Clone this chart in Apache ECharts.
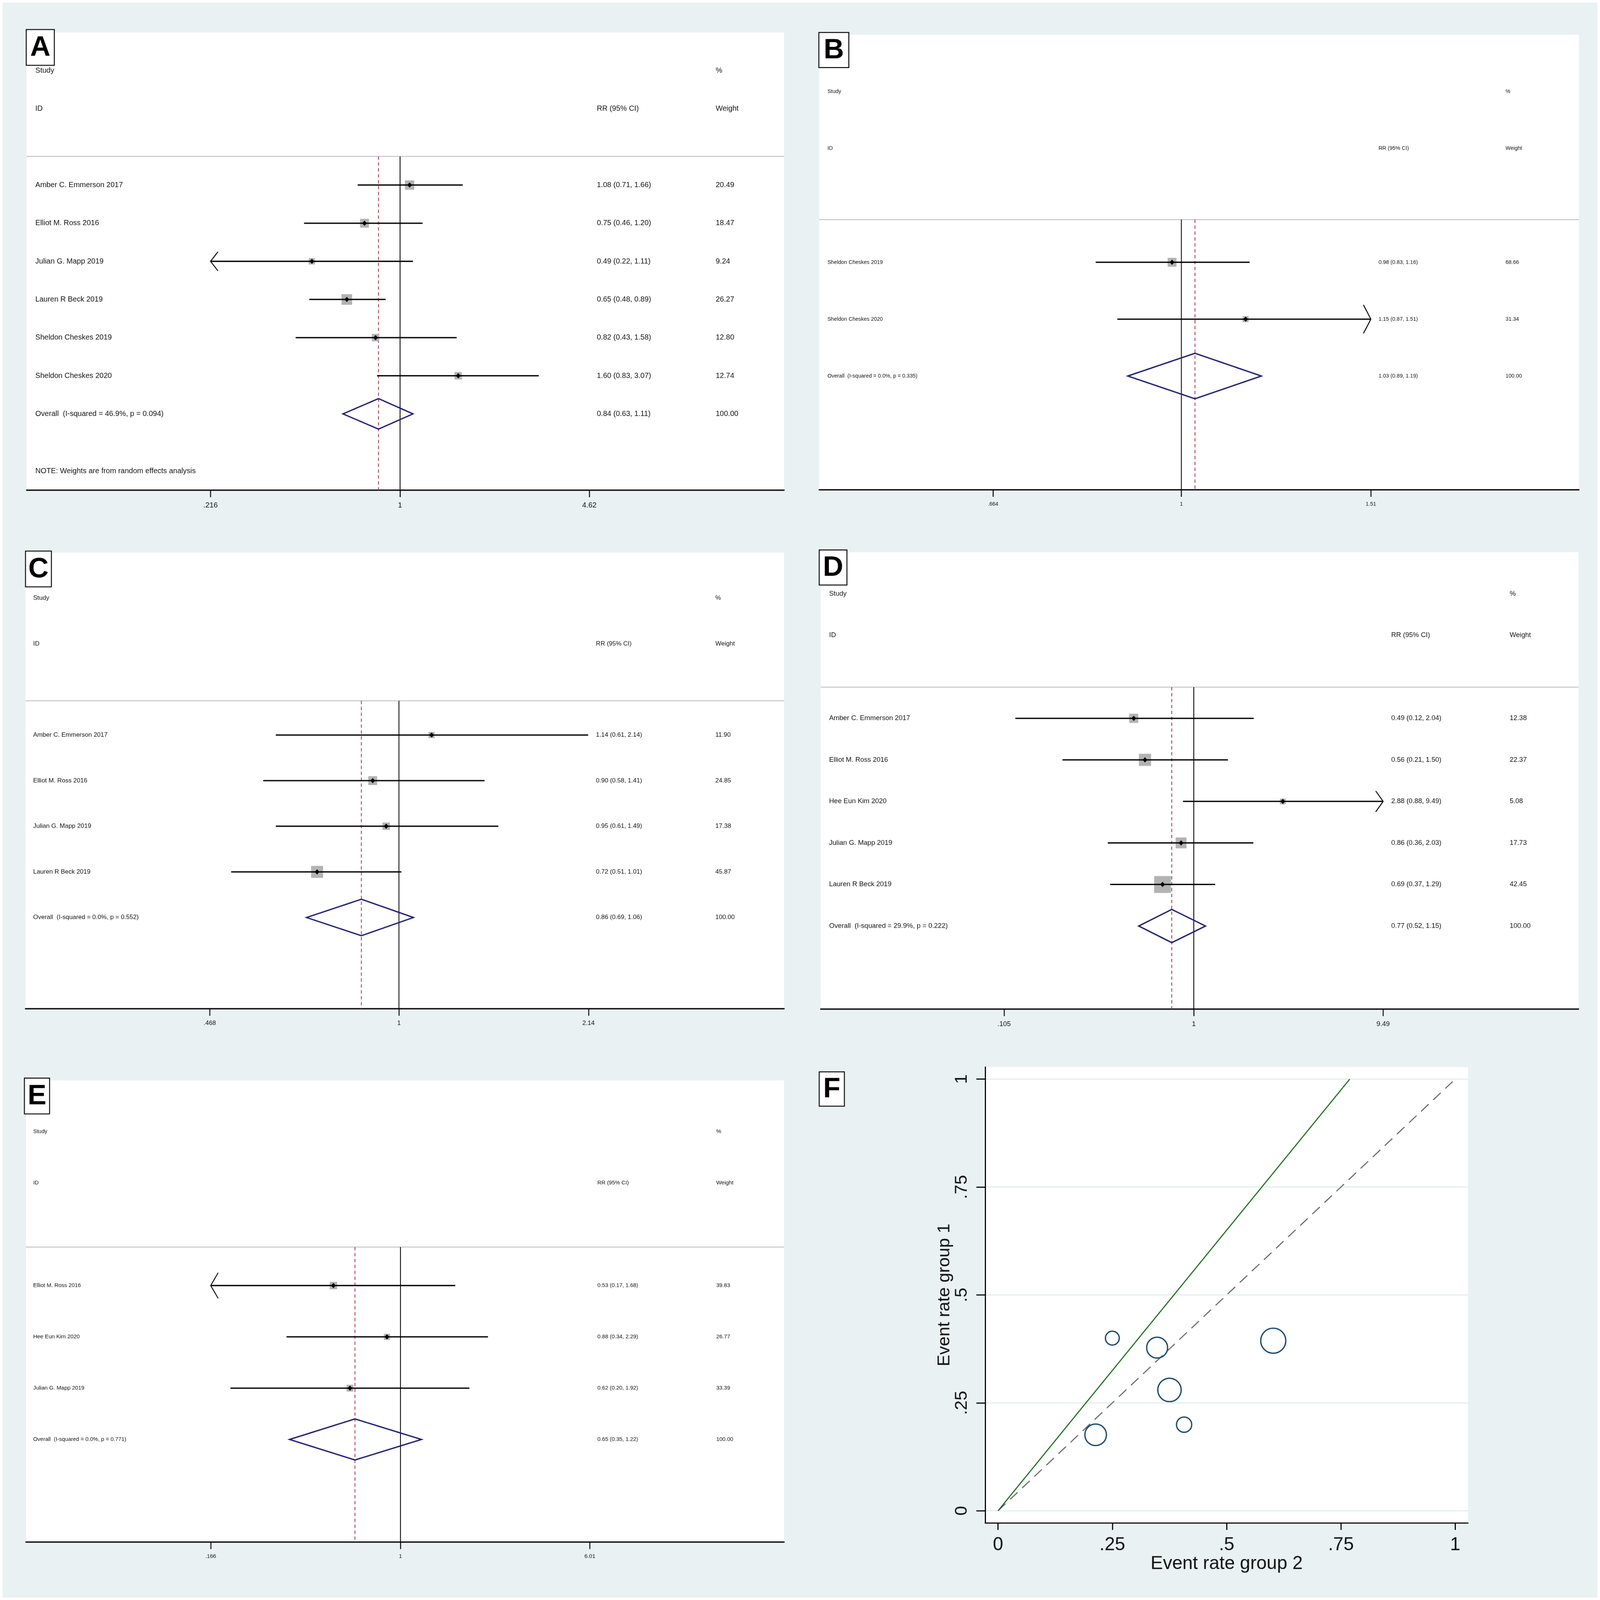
<!DOCTYPE html>
<html>
<head>
<meta charset="utf-8">
<style>
  html, body { margin: 0; padding: 0; background: #fff; overflow: hidden; }
  #chart { width: 4328px; height: 4335px; transform-origin: 0 0; }
</style>
<script src="https://cdn.jsdelivr.net/npm/echarts@6/dist/echarts.min.js"></script>
</head>
<body>
<div id="chart"></div>
<script>
// ---- panel A ----
var studiesA = ['Amber C. Emmerson 2017', 'Elliot M. Ross 2016', 'Julian G. Mapp 2019',
                'Lauren R Beck 2019', 'Sheldon Cheskes 2019', 'Sheldon Cheskes 2020'];
var rrA = [1.08, 0.75, 0.49, 0.65, 0.82, 1.60];
var loA = [0.71, 0.46, 0.2155, 0.48, 0.43, 0.83];
var hiA = [1.66, 1.20, 1.11, 0.89, 1.58, 3.07];
var weightA = [20.49, 18.47, 9.24, 26.27, 12.80, 12.74];
var overallA = [0.84, 0.63, 1.11];
var hetA = 'I-squared = 46.9%, p = 0.094';
var ticksA = [0.216, 1, 4.62];
var noteA = 'NOTE: Weights are from random effects analysis';

// ---- panel B ----
var studiesB = ['Sheldon Cheskes 2019', 'Sheldon Cheskes 2020'];
var rrB = [0.98, 1.15];
var loB = [0.83, 0.87];
var hiB = [1.16, 1.512];
var weightB = [68.66, 31.34];
var overallB = [1.03, 0.89, 1.19];
var hetB = 'I-squared = 0.0%, p = 0.335';
var ticksB = [0.664, 1, 1.51];

// ---- panel C ----
var studiesC = ['Amber C. Emmerson 2017', 'Elliot M. Ross 2016', 'Julian G. Mapp 2019', 'Lauren R Beck 2019'];
var rrC = [1.14, 0.90, 0.95, 0.72];
var loC = [0.61, 0.58, 0.61, 0.51];
var hiC = [2.137, 1.41, 1.49, 1.01];
var weightC = [11.90, 24.85, 17.38, 45.87];
var overallC = [0.86, 0.69, 1.06];
var hetC = 'I-squared = 0.0%, p = 0.552';
var ticksC = [0.468, 1, 2.14];

// ---- panel D ----
var studiesD = ['Amber C. Emmerson 2017', 'Elliot M. Ross 2016', 'Hee Eun Kim 2020',
                'Julian G. Mapp 2019', 'Lauren R Beck 2019'];
var rrD = [0.49, 0.56, 2.88, 0.86, 0.69];
var loD = [0.12, 0.21, 0.88, 0.36, 0.37];
var hiD = [2.04, 1.50, 9.494, 2.03, 1.29];
var weightD = [12.38, 22.37, 5.08, 17.73, 42.45];
var overallD = [0.77, 0.52, 1.15];
var hetD = 'I-squared = 29.9%, p = 0.222';
var ticksD = [0.105, 1, 9.49];

// ---- panel E ----
var studiesE = ['Elliot M. Ross 2016', 'Hee Eun Kim 2020', 'Julian G. Mapp 2019'];
var rrE = [0.53, 0.88, 0.62];
var loE = [0.1658, 0.34, 0.20];
var hiE = [1.68, 2.29, 1.92];
var weightE = [39.83, 26.77, 33.39];
var overallE = [0.65, 0.35, 1.22];
var hetE = 'I-squared = 0.0%, p = 0.771';
var ticksE = [0.166, 1, 6.01];

// ---- panel F (L'Abbe plot) ----
var rateGroup2 = [0.250, 0.348, 0.602, 0.375, 0.407, 0.2135];
var rateGroup1 = [0.400, 0.378, 0.394, 0.280, 0.1995, 0.176];
var weightF = [14, 32, 46, 40, 17, 34];
var pooledRatio = 1.30;
var equalityLine = [0, 1];
var rateTicks = [0, 0.25, 0.5, 0.75, 1];

// ---- layout (pixels on the 4328 x 4335 sheet) ----
var layoutA = {left: 72, top: 88, width: 2049, height: 1240, font: 20, boxScale: 5.6,
               span: [1.973, 2.029], cols: [0.0115, 0.7528, 0.9097], tag: [71, 80, 76, 97]};
var layoutB = {left: 2216, top: 94, width: 2055, height: 1233, font: 14.5, boxScale: 2.9,
               span: [1.911, 2.098], cols: [0.0108, 0.7362, 0.9034], tag: [2215, 88, 81, 95]};
var layoutC = {left: 69, top: 1497, width: 2052, height: 1236, font: 17, boxScale: 4.8,
               span: [1.970, 2.032], cols: [0.0101, 0.7520, 0.9094], tag: [69, 1493, 70, 97]};
var layoutD = {left: 2220, top: 1496, width: 2050, height: 1238, font: 18.5, boxScale: 7.0,
               span: [1.970, 2.032], cols: [0.0111, 0.7528, 0.9091], tag: [2216, 1490, 75, 95]};
var layoutE = {left: 70, top: 2927, width: 2051, height: 1251, font: 15, boxScale: 3.2,
               span: [1.977, 2.025], cols: [0.0096, 0.7538, 0.9105], tag: [66, 2921, 68, 97]};
var layoutF = {left: 2665, top: 2891, width: 1306, height: 1235, tag: [2216, 2904, 68, 93]};

var SHEET_W = 4328, SHEET_H = 4335;
var FONT = '"Liberation Sans", Arial, sans-serif';
var INK = '#111';
var SEP_ROW = -0.75;

function fmtTick(v) {
  return String(parseFloat(Number(v).toPrecision(3))).replace(/^0\./, '.');
}
function ciText(rr, lo, hi) {
  return rr.toFixed(2) + ' (' + lo.toFixed(2) + ', ' + hi.toFixed(2) + ')';
}

var panels = [
  {tag: 'A', studies: studiesA, rr: rrA, lo: loA, hi: hiA, weight: weightA, overall: overallA, het: hetA, ticks: ticksA, note: noteA, layout: layoutA},
  {tag: 'B', studies: studiesB, rr: rrB, lo: loB, hi: hiB, weight: weightB, overall: overallB, het: hetB, ticks: ticksB, layout: layoutB},
  {tag: 'C', studies: studiesC, rr: rrC, lo: loC, hi: hiC, weight: weightC, overall: overallC, het: hetC, ticks: ticksC, layout: layoutC},
  {tag: 'D', studies: studiesD, rr: rrD, lo: loD, hi: hiD, weight: weightD, overall: overallD, het: hetD, ticks: ticksD, layout: layoutD},
  {tag: 'E', studies: studiesE, rr: rrE, lo: loE, hi: hiE, weight: weightE, overall: overallE, het: hetE, ticks: ticksE, layout: layoutE}
];

var option = {
  backgroundColor: '#e9f1f3',
  animation: false,
  textStyle: {fontFamily: FONT},
  grid: [], xAxis: [], yAxis: [], series: [], graphic: []
};

function addTag(letter, t) {
  option.graphic.push({
    type: 'rect', z: 100,
    shape: {x: t[0], y: t[1], width: t[2], height: t[3]},
    style: {fill: '#fff', stroke: '#000', lineWidth: 2.5}
  });
  option.graphic.push({
    type: 'text', z: 101, x: t[0] + t[2] / 2, y: t[1] + t[3] / 2 + 2,
    style: {text: letter, font: 'bold 76px ' + FONT, fill: '#000', align: 'center', verticalAlign: 'middle'}
  });
}

function arrowHead(p, dir, rowPx) {
  var h = rowPx * 0.25;
  return {
    type: 'polyline',
    shape: {points: [[p[0] - dir * 20, p[1] - h], p, [p[0] - dir * 20, p[1] + h]]},
    style: {stroke: '#000', lineWidth: 2.5, fill: 'none'}
  };
}

function addForest(p) {
  var L = p.layout;
  var g = option.grid.length;
  var n = p.studies.length;
  var rowEnd = n + 2;
  var logX = option.xAxis.length;
  var textX = logX + 1;
  var yi = option.yAxis.length;

  option.grid.push({left: L.left, top: L.top, width: L.width, height: L.height,
    show: true, backgroundColor: '#fff', borderWidth: 0, outerBoundsMode: 'none'});

  option.xAxis.push({
    type: 'log', logBase: 10, gridIndex: g, position: 'bottom',
    min: Math.pow(p.ticks[2], -L.span[0]), max: Math.pow(p.ticks[2], L.span[1]),
    axisLine: {show: true, onZero: false, lineStyle: {color: '#000', width: 3.5}},
    axisTick: {show: true, customValues: p.ticks, length: 19, lineStyle: {color: '#000', width: 2.5}},
    axisLabel: {show: true, customValues: p.ticks, margin: 31, color: INK,
                fontSize: L.font, fontFamily: FONT, formatter: fmtTick},
    splitLine: {show: false}, minorTick: {show: false}, minorSplitLine: {show: false}
  });
  option.xAxis.push({type: 'value', gridIndex: g, min: 0, max: 1, show: false});
  option.yAxis.push({type: 'value', gridIndex: g, min: -4, max: rowEnd, inverse: true, show: false});

  // header separator
  option.series.push({
    type: 'custom', xAxisIndex: textX, yAxisIndex: yi, z: 1, silent: true,
    data: [[0, SEP_ROW]],
    renderItem: function (params, api) {
      var cs = params.coordSys;
      var y = api.coord([0, api.value(1)])[1];
      return {type: 'line', shape: {x1: cs.x, y1: y, x2: cs.x + cs.width, y2: y},
              style: {stroke: '#c2c2c2', lineWidth: 2.5, fill: 'none'}};
    }
  });

  // line of no effect and pooled estimate line
  option.series.push({
    type: 'custom', xAxisIndex: logX, yAxisIndex: yi, z: 2, silent: true,
    data: [[1, SEP_ROW, rowEnd], [p.overall[0], SEP_ROW, rowEnd]],
    renderItem: function (params, api) {
      var x = api.value(0);
      var a = api.coord([x, api.value(1)]);
      var b = api.coord([x, api.value(2)]);
      var st = params.dataIndex === 1
        ? {stroke: '#a8344a', lineWidth: 2.2, lineDash: [9, 7], fill: 'none'}
        : {stroke: '#000', lineWidth: 2.2, fill: 'none'};
      return {type: 'line', shape: {x1: a[0], y1: a[1], x2: b[0], y2: b[1]}, style: st};
    }
  });

  // study estimates
  option.series.push({
    type: 'custom', xAxisIndex: logX, yAxisIndex: yi, z: 3, silent: true,
    data: p.rr.map(function (v, i) { return [v, i, p.lo[i], p.hi[i], p.weight[i]]; }),
    renderItem: function (params, api) {
      var rr = api.value(0), row = api.value(1), lo = api.value(2), hi = api.value(3), w = api.value(4);
      var tLo = p.ticks[0], tHi = p.ticks[2];
      var a = api.coord([Math.max(lo, tLo), row]);
      var b = api.coord([Math.min(hi, tHi), row]);
      var m = api.coord([rr, row]);
      var rowPx = api.coord([rr, row + 1])[1] - m[1];
      var side = L.boxScale * Math.sqrt(w);
      var kids = [
        {type: 'rect', shape: {x: m[0] - side / 2, y: m[1] - side / 2, width: side, height: side, r: 1},
         style: {fill: '#b3b3b3'}},
        {type: 'line', shape: {x1: a[0], y1: a[1], x2: b[0], y2: b[1]},
         style: {stroke: '#000', lineWidth: 3.5, fill: 'none'}},
        {type: 'polygon', shape: {points: [[m[0] - 6.5, m[1]], [m[0], m[1] - 7], [m[0] + 6.5, m[1]], [m[0], m[1] + 7]]},
         style: {fill: '#000'}}
      ];
      if (lo < tLo) kids.push(arrowHead(a, -1, rowPx));
      if (hi > tHi) kids.push(arrowHead(b, 1, rowPx));
      return {type: 'group', children: kids};
    }
  });

  // pooled diamond
  option.series.push({
    type: 'custom', xAxisIndex: logX, yAxisIndex: yi, z: 4, silent: true,
    data: [[p.overall[0], n, p.overall[1], p.overall[2]]],
    renderItem: function (params, api) {
      var row = api.value(1);
      var c = api.coord([api.value(0), row]);
      var l = api.coord([api.value(2), row]);
      var r = api.coord([api.value(3), row]);
      var h = (api.coord([api.value(0), row + 1])[1] - c[1]) * 0.4;
      return {type: 'polygon',
              shape: {points: [[l[0], c[1]], [c[0], c[1] - h], [r[0], c[1]], [c[0], c[1] + h]]},
              style: {fill: 'none', stroke: '#1c1c78', lineWidth: 3.5}};
    }
  });

  // text columns
  var cols = L.cols;
  var texts = [
    [cols[0], -3, 'Study'], [cols[2], -3, '%'],
    [cols[0], -2, 'ID'], [cols[1], -2, 'RR (95% CI)'], [cols[2], -2, 'Weight']
  ];
  p.studies.forEach(function (s, i) {
    texts.push([cols[0], i, s]);
    texts.push([cols[1], i, ciText(p.rr[i], p.lo[i], p.hi[i])]);
    texts.push([cols[2], i, p.weight[i].toFixed(2)]);
  });
  texts.push([cols[0], n, 'Overall  (' + p.het + ')']);
  texts.push([cols[1], n, ciText(p.overall[0], p.overall[1], p.overall[2])]);
  texts.push([cols[2], n, (100).toFixed(2)]);
  if (p.note) texts.push([cols[0], n + 1.5, p.note]);

  option.series.push({
    type: 'custom', xAxisIndex: textX, yAxisIndex: yi, z: 5, silent: true,
    data: texts.map(function (t) { return [t[0], t[1]]; }),
    renderItem: function (params, api) {
      var pt = api.coord([api.value(0), api.value(1)]);
      return {type: 'text', x: pt[0], y: pt[1],
              style: {text: texts[params.dataIndex][2], fill: INK, fontSize: L.font, fontFamily: FONT,
                      align: 'left', verticalAlign: 'middle'}};
    }
  });

  addTag(p.tag, L.tag);
}

function addLabbe() {
  var L = layoutF;
  var g = option.grid.length;
  var xi = option.xAxis.length;
  var yi = option.yAxis.length;

  option.grid.push({left: L.left, top: L.top, width: L.width, height: L.height,
    show: true, backgroundColor: '#fff', borderWidth: 0, outerBoundsMode: 'none'});

  option.xAxis.push({
    type: 'value', gridIndex: g, min: -0.028, max: 1.028, position: 'bottom',
    name: 'Event rate group 2', nameLocation: 'middle', nameGap: 86,
    nameTextStyle: {fontSize: 50, color: INK, fontFamily: FONT},
    axisLine: {show: true, onZero: false, lineStyle: {color: '#000', width: 3}},
    axisTick: {show: true, customValues: rateTicks, length: 19, lineStyle: {color: '#000', width: 3}},
    axisLabel: {show: true, customValues: rateTicks, margin: 35, fontSize: 50, color: INK,
                fontFamily: FONT, formatter: fmtTick},
    splitLine: {show: false}
  });
  option.yAxis.push({
    type: 'value', gridIndex: g, min: -0.028, max: 1.028, position: 'left',
    name: 'Event rate group 1', nameLocation: 'middle', nameRotate: 90, nameGap: 77,
    nameTextStyle: {fontSize: 47, color: INK, fontFamily: FONT},
    axisLine: {show: true, onZero: false, lineStyle: {color: '#000', width: 3}},
    axisTick: {show: true, customValues: rateTicks, length: 24, lineStyle: {color: '#000', width: 3}},
    axisLabel: {show: true, customValues: rateTicks, margin: 39, rotate: 90, fontSize: 47, color: INK,
                fontFamily: FONT, formatter: fmtTick},
    splitLine: {show: false}
  });

  // horizontal grid lines
  option.series.push({
    type: 'custom', xAxisIndex: xi, yAxisIndex: yi, z: 1, silent: true,
    data: rateTicks.map(function (v) { return [0, v]; }),
    renderItem: function (params, api) {
      var cs = params.coordSys;
      var y = api.coord([0, api.value(1)])[1];
      return {type: 'line', shape: {x1: cs.x + 2, y1: y, x2: cs.x + cs.width, y2: y},
              style: {stroke: '#e4edf0', lineWidth: 3, fill: 'none'}};
    }
  });

  option.series.push({
    type: 'line', xAxisIndex: xi, yAxisIndex: yi, z: 2, silent: true, symbol: 'none',
    data: equalityLine.map(function (v) { return [v, v]; }),
    lineStyle: {color: '#6b6b6b', width: 3, type: [28, 17]}
  });
  option.series.push({
    type: 'line', xAxisIndex: xi, yAxisIndex: yi, z: 3, silent: true, symbol: 'none',
    data: [[0, 0], [1 / pooledRatio, 1]],
    lineStyle: {color: '#176e17', width: 2.8}
  });
  option.series.push({
    type: 'scatter', xAxisIndex: xi, yAxisIndex: yi, z: 4, silent: true,
    data: rateGroup2.map(function (x, i) { return [x, rateGroup1[i], weightF[i]]; }),
    symbol: 'circle',
    symbolSize: function (d) { return 10 * Math.sqrt(d[2]); },
    itemStyle: {color: 'rgba(0,0,0,0)', borderColor: '#1a476f', borderWidth: 3.5, opacity: 1}
  });

  addTag('F', L.tag);
}

panels.forEach(addForest);
addLabbe();

// thin white frame round the figure
option.graphic.push({
  type: 'rect', z: 200, silent: true,
  shape: {x: 0, y: 0, width: SHEET_W, height: SHEET_H},
  style: {fill: 'none', stroke: '#fff', lineWidth: 14}
});

// fit the sheet to whatever viewport the page is opened in
var el = document.getElementById('chart');
var vw = window.innerWidth || SHEET_W, vh = window.innerHeight || SHEET_H;
el.style.transform = 'scale(' + (vw / SHEET_W) + ',' + (vh / SHEET_H) + ')';

var chart = echarts.init(el);
chart.setOption(option);
</script>
</body>
</html>
